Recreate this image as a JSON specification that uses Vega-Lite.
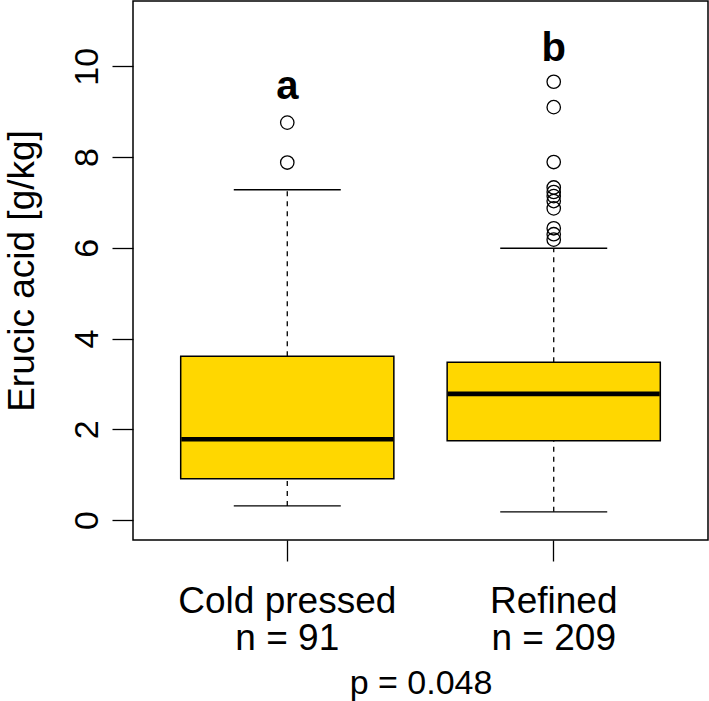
{
  "$schema": "https://vega.github.io/schema/vega-lite/v6.json",
  "width": 575,
  "height": 539,
  "autosize": {"type": "none"},
  "padding": {"left": 133, "top": 1, "right": 1, "bottom": 161},
  "background": "white",
  "config": {
    "view": {"stroke": "black", "strokeWidth": 1.5},
    "font": "Liberation Sans",
    "axis": {"grid": false, "domain": false, "tickColor": "black", "tickWidth": 1.3, "tickSize": 21, "labelColor": "black", "titleColor": "black", "labelFont": "Liberation Sans", "titleFont": "Liberation Sans", "titleFontWeight": "normal", "labelLimit": 0}
  },
  "datasets": {
    "stats": [
      {"group": "Cold pressed\nn = 91", "lower": 0.31, "q1": 0.91, "median": 1.78, "q3": 3.61, "upper": 7.28},
      {"group": "Refined\nn = 209", "lower": 0.18, "q1": 1.75, "median": 2.78, "q3": 3.48, "upper": 5.99}
    ],
    "outliers": [
      {"group": "Cold pressed\nn = 91", "value": 7.88},
      {"group": "Cold pressed\nn = 91", "value": 8.76},
      {"group": "Refined\nn = 209", "value": 9.66},
      {"group": "Refined\nn = 209", "value": 9.10},
      {"group": "Refined\nn = 209", "value": 7.89},
      {"group": "Refined\nn = 209", "value": 7.33},
      {"group": "Refined\nn = 209", "value": 7.23},
      {"group": "Refined\nn = 209", "value": 7.14},
      {"group": "Refined\nn = 209", "value": 7.03},
      {"group": "Refined\nn = 209", "value": 6.87},
      {"group": "Refined\nn = 209", "value": 6.43},
      {"group": "Refined\nn = 209", "value": 6.30},
      {"group": "Refined\nn = 209", "value": 6.18}
    ],
    "letters": [
      {"group": "Cold pressed\nn = 91", "y": 9.28, "letter": "a"},
      {"group": "Refined\nn = 209", "y": 10.11, "letter": "b"}
    ]
  },
  "encoding": {
    "x": {
      "field": "group",
      "type": "nominal",
      "sort": null,
      "scale": {"domain": ["Cold pressed\nn = 91", "Refined\nn = 209"], "paddingInner": 0.2, "paddingOuter": 0.179},
      "axis": {
        "title": "p = 0.048",
        "titleFontSize": 34,
        "titlePadding": 10,
        "labelAngle": 0,
        "labelFontSize": 37,
        "labelLineHeight": 37,
        "labelPadding": 22,
        "labelBaseline": "top",
        "labelExpr": "split(datum.value, '\\n')"
      }
    }
  },
  "layer": [
    {
      "data": {"name": "stats"},
      "mark": {"type": "rule", "strokeDash": [5, 5], "color": "black", "strokeWidth": 1.3},
      "encoding": {
        "y": {"field": "q3", "type": "quantitative", "scale": {"domain": [-0.44, 11.44], "nice": false, "zero": false},
          "axis": {"title": "Erucic acid [g/kg]", "titleFontSize": 37, "titlePadding": 29, "values": [0, 2, 4, 6, 8, 10], "labelAngle": -90, "labelAlign": "center", "labelBaseline": "alphabetic", "labelFontSize": 34, "labelPadding": 15}},
        "y2": {"field": "upper"}
      }
    },
    {
      "data": {"name": "stats"},
      "mark": {"type": "rule", "strokeDash": [5, 5], "color": "black", "strokeWidth": 1.3},
      "encoding": {
        "y": {"field": "lower", "type": "quantitative"},
        "y2": {"field": "q1"}
      }
    },
    {
      "data": {"name": "stats"},
      "mark": {"type": "tick", "color": "black", "opacity": 1, "size": 107, "thickness": 1.3},
      "encoding": {"y": {"field": "upper", "type": "quantitative"}}
    },
    {
      "data": {"name": "stats"},
      "mark": {"type": "tick", "color": "black", "opacity": 1, "size": 107, "thickness": 1.3},
      "encoding": {"y": {"field": "lower", "type": "quantitative"}}
    },
    {
      "data": {"name": "stats"},
      "mark": {"type": "bar", "fill": "#FFD700", "stroke": "black", "strokeWidth": 1.5, "opacity": 1},
      "encoding": {
        "y": {"field": "q1", "type": "quantitative"},
        "y2": {"field": "q3"}
      }
    },
    {
      "data": {"name": "stats"},
      "mark": {"type": "tick", "color": "black", "opacity": 1, "size": 212, "thickness": 4.6},
      "encoding": {"y": {"field": "median", "type": "quantitative"}}
    },
    {
      "data": {"name": "outliers"},
      "mark": {"type": "point", "shape": "circle", "filled": false, "stroke": "black", "strokeWidth": 1.3, "size": 180, "opacity": 1},
      "encoding": {"y": {"field": "value", "type": "quantitative"}}
    },
    {
      "data": {"name": "letters"},
      "mark": {"type": "text", "fontSize": 40, "fontWeight": "bold", "baseline": "alphabetic", "align": "center", "color": "black"},
      "encoding": {
        "y": {"field": "y", "type": "quantitative"},
        "text": {"field": "letter"}
      }
    }
  ]
}
